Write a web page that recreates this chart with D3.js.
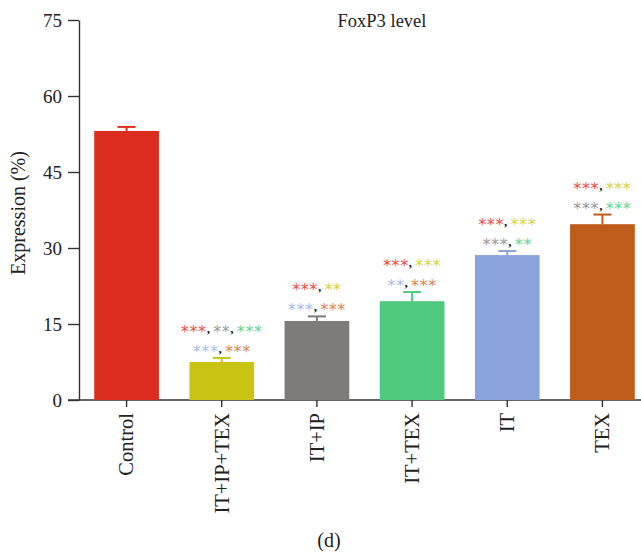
<!DOCTYPE html>
<html>
<head>
<meta charset="utf-8">
<script src="https://cdn.jsdelivr.net/npm/d3@7"></script>
<style>
  body { margin: 0; background: #fff; }
  text { font-family: "Liberation Serif", "DejaVu Serif", serif; fill: #222; }
</style>
</head>
<body>
<div id="chart"></div>
<script>
// data
var groups = ["Control", "IT+IP+TEX", "IT+IP", "IT+TEX", "IT", "TEX"];
var means = [53.1, 7.5, 15.6, 19.5, 28.6, 34.7];
var errors = [0.8, 0.8, 0.9, 1.8, 0.8, 1.9];
var yTicks = [0, 15, 30, 45, 60, 75];

// bar colours and the lighter tints used for the significance stars
var barColors = ["#dc2c1f", "#c9c413", "#7f7b79", "#4fc97e", "#8aa3da", "#bf5b1b"];
var starColors = ["#ea4c45", "#d8d23a", "#9a9898", "#63d591", "#aabdee", "#d9874f"];

// significance marks: [group compared with, number of stars]
var sigTop = [
    [],
    [[0, 3], [2, 2], [3, 3]],
    [[0, 3], [1, 2]],
    [[0, 3], [1, 3]],
    [[0, 3], [1, 3]],
    [[0, 3], [1, 3]]
];
var sigBottom = [
    [],
    [[4, 3], [5, 3]],
    [[4, 3], [5, 3]],
    [[4, 2], [5, 3]],
    [[2, 3], [3, 2]],
    [[2, 3], [3, 3]]
];

var svgWidth = 641;
var svgHeight = 552;

var svg = d3.select("#chart")
    .append("svg")
    .attr("width", svgWidth)
    .attr("height", svgHeight);

var x = d3.scaleBand()
    .domain(groups)
    .range([79, 650])
    .paddingInner(0.32)
    .paddingOuter(0.16);

var y = d3.scaleLinear()
    .domain([0, 75])
    .range([400, 20]);

// y axis
var yAxis = svg.append("g")
    .attr("transform", "translate(79,0)")
    .call(d3.axisLeft(y).tickValues(yTicks).tickSize(11).tickSizeOuter(0).tickPadding(6));

yAxis.select(".domain").attr("stroke", "#333").attr("stroke-width", 1.4);
yAxis.selectAll(".tick line").attr("stroke", "#333").attr("stroke-width", 1.4);
yAxis.selectAll(".tick text")
    .style("font-family", "Liberation Serif, serif")
    .attr("font-size", 19)
    .attr("fill", "#222");

// x axis
var xAxis = svg.append("g")
    .attr("transform", "translate(0,400)")
    .call(d3.axisBottom(x).tickSize(7).tickSizeOuter(0).tickPadding(0));

xAxis.select(".domain").remove();
xAxis.append("line")
    .attr("x1", 68)
    .attr("x2", svgWidth)
    .attr("stroke", "#333")
    .attr("stroke-width", 1.4);
xAxis.selectAll(".tick line").attr("stroke", "#333").attr("stroke-width", 1.4);
xAxis.selectAll(".tick text")
    .style("font-family", "Liberation Serif, serif")
    .attr("font-size", 20.5)
    .attr("fill", "#222")
    .attr("text-anchor", "end")
    .attr("transform", "rotate(-90)")
    .attr("x", -13)
    .attr("y", 0)
    .attr("dy", "0.33em");

// bars
svg.selectAll(".bar")
    .data(groups)
    .enter()
    .append("rect")
    .attr("class", "bar")
    .attr("x", d => x(d))
    .attr("width", x.bandwidth())
    .attr("y", (d, i) => y(means[i]))
    .attr("height", (d, i) => y(0) - y(means[i]))
    .attr("fill", (d, i) => barColors[i]);

// error bars (upper half only)
var err = svg.selectAll(".err")
    .data(groups)
    .enter()
    .append("g")
    .attr("class", "err")
    .attr("stroke", (d, i) => barColors[i])
    .attr("stroke-width", 2);

err.append("line")
    .attr("x1", d => x(d) + x.bandwidth() / 2)
    .attr("x2", d => x(d) + x.bandwidth() / 2)
    .attr("y1", (d, i) => y(means[i]))
    .attr("y2", (d, i) => y(means[i] + errors[i]));

err.append("line")
    .attr("x1", d => x(d) + x.bandwidth() / 2 - 9)
    .attr("x2", d => x(d) + x.bandwidth() / 2 + 9)
    .attr("y1", (d, i) => y(means[i] + errors[i]))
    .attr("y2", (d, i) => y(means[i] + errors[i]));

// significance stars
function starLine(row, offset) {
    svg.selectAll(".sig" + offset)
        .data(groups)
        .enter()
        .append("text")
        .attr("text-anchor", "middle")
        .attr("x", d => x(d) + x.bandwidth() / 2)
        .attr("y", (d, i) => y(means[i] + errors[i]) - offset)
        .attr("font-size", 16)
        .each(function(d, i) {
            var t = d3.select(this);
            row[i].forEach(function(m, j) {
                if (j > 0) {
                    t.append("tspan")
                        .attr("dy", -4)
                        .attr("font-size", 13)
                        .style("font-weight", "bold")
                        .attr("fill", "#111")
                        .text(", ");
                }
                t.append("tspan")
                    .attr("dy", j > 0 ? 4 : null)
                    .style("font-family", "DejaVu Sans, sans-serif")
                    .attr("fill", starColors[m[0]])
                    .attr("letter-spacing", 0.6)
                    .text("*".repeat(m[1]));
            });
        });
}

starLine(sigBottom, 1);
starLine(sigTop, 21);

// title, axis label, panel letter
svg.append("text")
    .attr("x", 382)
    .attr("y", 27)
    .attr("text-anchor", "middle")
    .attr("font-size", 18.5)
    .text("FoxP3 level");

svg.append("text")
    .attr("transform", "translate(25,213) rotate(-90)")
    .attr("text-anchor", "middle")
    .attr("font-size", 20)
    .text("Expression (%)");

svg.append("text")
    .attr("x", 329)
    .attr("y", 547)
    .attr("text-anchor", "middle")
    .attr("font-size", 20)
    .text("(d)");
</script>
</body>
</html>
